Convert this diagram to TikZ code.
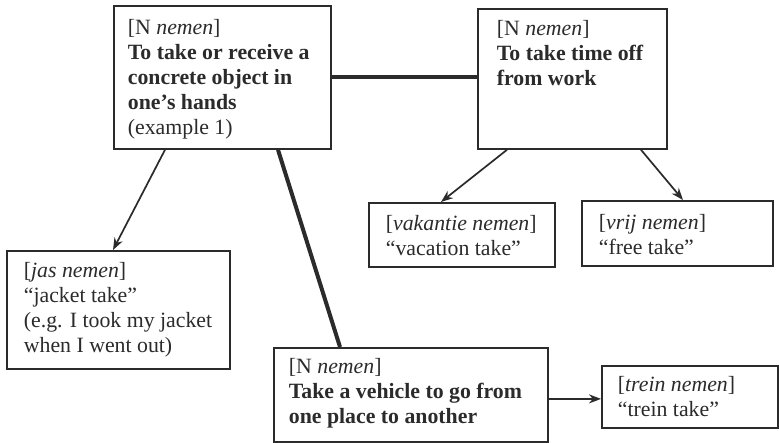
\documentclass[tikz,border=0pt]{standalone}
\usepackage{fontspec}
\setmainfont{Liberation Serif}
\usetikzlibrary{arrows.meta}
\definecolor{ink}{HTML}{2B2B2B}
% #1 width, #2 height, #3 left padding, #4 first baseline offset, #5 text
\newcommand{\cell}[5]{\parbox[c][#2][t]{#1}{\raggedright\leftskip=#3\relax
  \fontsize{21.8}{25}\selectfont\rule{0pt}{#4}#5\par}}
\tikzset{
  box/.style={draw=ink, line width=1.8pt, inner sep=0pt, anchor=north west, text=ink},
  thinarrow/.style={draw=ink, line width=1.7pt, -{Stealth[length=12pt,width=9pt]}},
  heavy/.style={draw=ink, line width=4pt}
}
\begin{document}
\begin{tikzpicture}[x=1pt,y=-1pt]
\useasboundingbox (0,0) rectangle (779,443);
\fill[white] (0,0) rectangle (779,443);

\node[box] (take) at (113,5) {\cell{217pt}{143pt}{14pt}{29pt}{[N \textit{nemen}]\\
  \textbf{To take or receive a\\ concrete object in\\ one’s hands}\\ (example 1)}};
\node[box] (timeoff) at (477,8) {\cell{189pt}{140pt}{19pt}{27pt}{[N \textit{nemen}]\\
  \textbf{To take time off\\ from work}}};
\node[box] (vakantie) at (368,202) {\cell{186pt}{64pt}{17pt}{28pt}{[\textit{vakantie nemen}]\\
  “vacation take”}};
\node[box] (vrij) at (581,200) {\cell{191pt}{65pt}{17pt}{29pt}{[\textit{vrij nemen}]\\
  “free take”}};
\node[box] (jas) at (6,250) {\cell{223pt}{118pt}{17pt}{27pt}{[\textit{jas nemen}]\\
  “jacket take”\\ (e.g. I took my jacket\\ when I went out)}};
\node[box] (vehicle) at (273,347) {\cell{274pt}{94pt}{15pt}{26pt}{[N \textit{nemen}]\\
  \textbf{Take a vehicle to go from\\ one place to another}}};
\node[box] (trein) at (601,365) {\cell{176pt}{62pt}{16pt}{26pt}{[\textit{trein nemen}]\\
  “trein take”}};

\draw[heavy] (take.east) -- (take.east -| timeoff.west);
\draw[heavy] ([xshift=165pt]take.south west) -- ([xshift=67pt]vehicle.north west);
\draw[thinarrow] ([xshift=52pt]take.south west) -- ([xshift=107pt]jas.north west);
\draw[thinarrow] ([xshift=30pt]timeoff.south west) -- ([xshift=73pt]vakantie.north west);
\draw[thinarrow] ([xshift=164pt]timeoff.south west) -- ([xshift=102pt]vrij.north west);
\draw[thinarrow] ([yshift=-4pt]vehicle.east) -- ([yshift=-4pt]vehicle.east -| trein.west);
\end{tikzpicture}
\end{document}
